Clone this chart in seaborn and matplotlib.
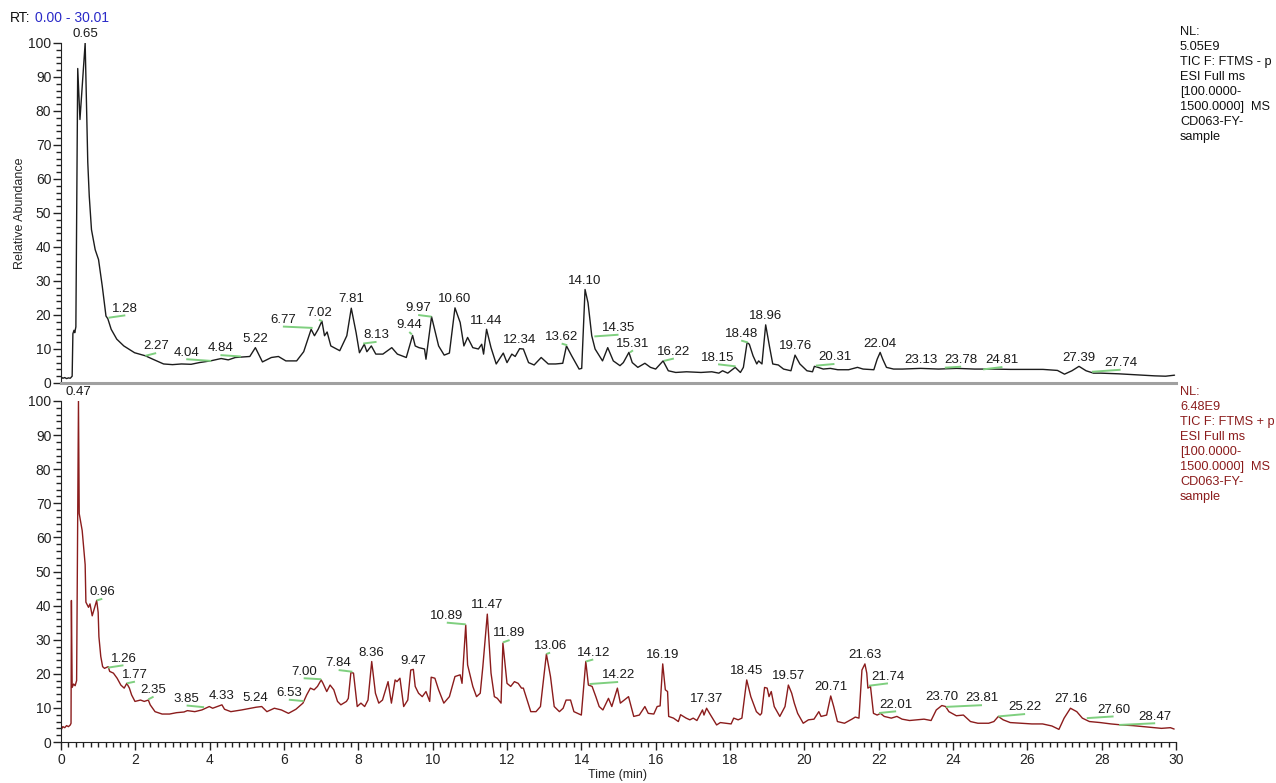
import numpy as np
import pandas as pd
import matplotlib
matplotlib.use("Agg")
import matplotlib.pyplot as plt
from matplotlib.ticker import MultipleLocator
import seaborn as sns

# ---- negative mode TIC (top) : retention time (min) / relative abundance (%)
NEG_T = [0.00, 0.05, 0.10, 0.15, 0.20, 0.25, 0.30, 0.32, 0.35, 0.37, 0.40, 0.45, 0.51, 0.65, 0.72, 0.76,
         0.82, 0.92, 1.01, 1.11, 1.21, 1.26, 1.35, 1.50, 1.69, 1.98, 2.27, 2.47, 2.76, 3.00, 3.24, 3.50,
         3.72, 4.02, 4.31, 4.50, 4.69, 5.08, 5.23, 5.42, 5.66, 5.85, 6.05, 6.34, 6.53, 6.73, 6.82, 6.92,
         7.02, 7.09, 7.16, 7.26, 7.50, 7.69, 7.81, 7.94, 8.03, 8.16, 8.23, 8.35, 8.47, 8.66, 8.90, 9.05,
         9.29, 9.46, 9.53, 9.63, 9.78, 9.82, 9.97, 10.16, 10.31, 10.45, 10.60, 10.74, 10.84, 10.94, 11.08,
         11.23, 11.32, 11.37, 11.45, 11.57, 11.71, 11.90, 12.00, 12.13, 12.22, 12.34, 12.44, 12.58, 12.73,
         12.92, 13.11, 13.31, 13.50, 13.60, 13.74, 13.94, 14.01, 14.10, 14.18, 14.28, 14.37, 14.57, 14.71,
         14.86, 15.04, 15.13, 15.28, 15.37, 15.52, 15.71, 15.86, 16.00, 16.20, 16.34, 16.54, 16.83, 17.22,
         17.51, 17.70, 17.80, 17.94, 18.14, 18.28, 18.36, 18.46, 18.52, 18.62, 18.72, 18.77, 18.86, 18.96,
         19.06, 19.15, 19.30, 19.44, 19.64, 19.75, 19.88, 20.07, 20.22, 20.27, 20.37, 20.51, 20.70, 20.90,
         21.19, 21.43, 21.58, 21.87, 21.96, 22.04, 22.11, 22.21, 22.40, 22.64, 23.13, 23.61, 24.10, 24.58,
         25.06, 25.55, 26.03, 26.42, 26.81, 27.00, 27.20, 27.39, 27.58, 27.78, 27.97, 28.46, 28.94, 29.43,
         29.72, 29.96]
NEG_Y = [1.8, 1.4, 1.6, 1.3, 1.5, 1.4, 2.0, 14.5, 15.5, 14.8, 16.5, 92.5, 77.5, 100.0, 65.0, 55.0,
         45.1, 39.2, 36.3, 28.5, 19.7, 18.9, 15.8, 12.9, 10.9, 8.9, 8.0, 7.0, 5.6, 5.4, 5.6, 5.5,
         6.0, 6.5, 7.2, 6.8, 7.5, 7.8, 10.4, 6.2, 7.5, 7.8, 6.5, 6.5, 9.2, 15.8, 13.9, 15.8,
         18.2, 13.9, 15.0, 10.9, 9.5, 13.9, 22.0, 14.8, 8.9, 11.4, 9.2, 10.9, 8.5, 8.5, 10.4, 8.5,
         7.5, 14.0, 10.9, 10.4, 10.0, 7.0, 19.5, 10.9, 8.2, 8.8, 22.1, 17.8, 10.9, 13.4, 10.4,
         10.0, 11.4, 8.5, 15.8, 10.4, 5.6, 8.8, 6.0, 8.5, 7.8, 10.1, 10.0, 6.0, 5.3,
         7.5, 5.6, 5.6, 5.8, 10.9, 8.0, 4.1, 4.3, 27.5, 23.6, 13.9, 10.0, 6.5, 10.4,
         6.5, 5.1, 6.0, 9.0, 6.0, 4.6, 5.8, 4.6, 4.1, 6.5, 3.6, 3.1, 3.3, 3.1,
         3.3, 2.9, 3.6, 2.9, 4.6, 3.1, 4.6, 11.9, 11.4, 8.0, 5.6, 6.5, 5.6, 17.1,
         10.9, 5.6, 5.3, 4.1, 3.6, 8.2, 5.6, 3.6, 3.3, 4.9, 4.6, 4.1, 4.3, 3.9,
         3.9, 4.6, 4.1, 3.9, 7.0, 9.0, 7.0, 4.6, 4.1, 4.1, 4.3, 4.1, 4.3, 4.1,
         4.1, 4.0, 4.0, 4.0, 3.7, 2.6, 3.6, 4.9, 3.6, 2.9, 2.9, 2.7, 2.4, 2.1,
         2.0, 2.3]

# ---- positive mode TIC (bottom)
POS_T = [0.00, 0.05, 0.10, 0.15, 0.20, 0.25, 0.27, 0.28, 0.30, 0.34, 0.38, 0.42, 0.47, 0.49, 0.57, 0.65,
         0.67, 0.74, 0.78, 0.84, 0.88, 0.96, 1.00, 1.02, 1.07, 1.12, 1.17, 1.27, 1.31, 1.41, 1.51, 1.61,
         1.70, 1.77, 1.84, 1.90, 1.99, 2.14, 2.24, 2.35, 2.40, 2.53, 2.72, 2.92, 3.11, 3.31, 3.40, 3.60,
         3.79, 3.99, 4.08, 4.33, 4.40, 4.57, 4.86, 5.06, 5.25, 5.40, 5.54, 5.74, 5.93, 6.12, 6.32, 6.51,
         6.61, 6.71, 6.81, 6.90, 7.00, 7.05, 7.15, 7.24, 7.34, 7.44, 7.53, 7.68, 7.73, 7.80, 7.87, 7.97,
         8.07, 8.17, 8.26, 8.36, 8.46, 8.55, 8.65, 8.80, 8.89, 8.99, 9.04, 9.12, 9.22, 9.33, 9.41, 9.48,
         9.53, 9.62, 9.72, 9.82, 9.92, 9.96, 10.06, 10.16, 10.30, 10.45, 10.60, 10.74, 10.79, 10.89, 10.94,
         11.08, 11.18, 11.28, 11.35, 11.47, 11.57, 11.66, 11.74, 11.84, 11.89, 12.00, 12.10, 12.20, 12.30,
         12.39, 12.44, 12.54, 12.64, 12.78, 12.90, 13.06, 13.17, 13.27, 13.41, 13.51, 13.59, 13.71, 13.80,
         14.00, 14.12, 14.19, 14.29, 14.39, 14.48, 14.58, 14.73, 14.82, 14.97, 15.05, 15.27, 15.41, 15.56,
         15.71, 15.80, 15.95, 16.04, 16.12, 16.19, 16.26, 16.32, 16.35, 16.48, 16.61, 16.67, 16.82, 16.92,
         17.01, 17.11, 17.26, 17.30, 17.37, 17.45, 17.64, 17.74, 17.89, 18.03, 18.10, 18.22, 18.32, 18.45,
         18.56, 18.71, 18.81, 18.85, 18.93, 19.00, 19.05, 19.11, 19.19, 19.34, 19.48, 19.57, 19.66, 19.73,
         19.82, 19.97, 20.11, 20.26, 20.39, 20.45, 20.60, 20.71, 20.79, 20.89, 21.08, 21.28, 21.37, 21.47,
         21.55, 21.63, 21.68, 21.71, 21.78, 21.86, 21.96, 22.05, 22.15, 22.34, 22.49, 22.63, 22.83, 23.02,
         23.22, 23.41, 23.55, 23.70, 23.80, 23.89, 24.09, 24.28, 24.47, 24.67, 24.96, 25.10, 25.22, 25.35,
         25.54, 25.83, 26.12, 26.41, 26.66, 26.85, 26.99, 27.16, 27.33, 27.48, 27.67, 27.96, 28.25, 28.54,
         28.84, 29.13, 29.42, 29.61, 29.85, 29.95]
POS_Y = [3.5, 4.5, 4.2, 4.8, 4.5, 5.0, 5.5, 41.5, 16.0, 17.0, 16.5, 18.0, 100.0, 67.0, 62.0, 52.0,
         41.0, 39.5, 40.5, 37.0, 38.5, 41.5, 38.0, 30.9, 25.1, 22.1, 21.6, 22.1, 20.7, 20.2, 18.7, 16.7,
         15.8, 17.2, 15.8, 13.8, 11.9, 12.3, 11.9, 12.3, 10.9, 8.9, 8.2, 8.2, 8.6, 8.8, 9.2, 8.9,
         9.4, 10.4, 9.9, 10.9, 9.6, 8.9, 9.4, 9.8, 10.2, 10.4, 8.9, 9.9, 9.4, 8.4, 9.6, 11.4,
         13.8, 15.8, 15.3, 16.3, 18.2, 17.2, 14.8, 16.7, 15.3, 11.9, 10.9, 11.9, 12.8, 20.4, 20.2, 10.4,
         11.4, 10.4, 12.3, 23.6, 14.3, 11.4, 12.3, 17.7, 11.4, 18.2, 17.7, 18.7, 10.4, 12.3, 21.1, 21.3,
         16.3, 14.3, 13.3, 14.8, 11.9, 19.0, 18.7, 15.3, 11.4, 13.3, 19.2, 19.7, 17.2, 34.3, 22.6,
         16.3, 13.3, 14.3, 22.1, 37.5, 20.2, 13.3, 12.8, 11.4, 29.0, 17.2, 16.3, 17.7, 17.2,
         15.8, 15.8, 12.3, 8.9, 8.9, 10.4, 25.8, 19.2, 10.4, 8.9, 9.9, 12.3, 12.3, 8.9,
         7.9, 23.6, 16.7, 16.3, 13.3, 10.4, 9.4, 12.8, 10.4, 15.8, 11.4, 13.3, 7.5, 7.9,
         10.4, 8.4, 8.2, 10.4, 10.6, 22.9, 15.3, 14.8, 7.5, 7.0, 6.0, 8.0, 7.0, 6.5,
         7.0, 6.3, 9.4, 7.9, 9.9, 8.4, 5.0, 5.7, 5.5, 5.3, 7.0, 6.5, 7.0, 18.2,
         13.3, 8.9, 7.9, 8.4, 16.0, 15.8, 13.3, 14.8, 10.4, 7.5, 10.4, 16.7, 14.3, 11.4,
         8.4, 5.5, 6.5, 6.7, 8.9, 7.5, 7.9, 13.5, 10.4, 6.0, 5.5, 6.7, 7.3, 7.0,
         21.1, 22.9, 20.2, 15.8, 16.3, 8.4, 7.9, 8.4, 7.5, 7.0, 7.5, 6.7, 6.3, 6.5,
         6.7, 6.3, 9.4, 10.7, 10.4, 8.9, 7.7, 7.9, 6.0, 5.5, 5.5, 6.0, 7.5, 6.5,
         5.7, 5.5, 5.3, 5.3, 4.7, 3.7, 7.0, 9.9, 8.9, 7.0, 6.0, 5.7, 5.3, 5.0,
         4.8, 4.5, 4.2, 4.0, 4.2, 3.8]

# ---- labelled peaks (label text = retention time, height = abundance at label anchor)
NEG_PEAKS = ["0.65", "1.28", "2.27", "4.04", "4.84", "5.22", "6.77", "7.02", "7.81", "8.13", "9.44",
             "9.97", "10.60", "11.44", "12.34", "13.62", "14.10", "14.35", "15.31", "16.22", "18.15",
             "18.48", "18.96", "19.76", "20.31", "22.04", "23.13", "23.78", "24.81", "27.39", "27.74"]
NEG_PEAK_H = [100, 19.2, 8.0, 6.5, 7.8, 10.4, 16.2, 18.2, 22.0, 11.6, 14.3,
              19.5, 22.1, 15.8, 10.1, 11.1, 27.5, 13.7, 9.0, 6.5, 4.9,
              11.9, 17.1, 8.2, 5.1, 9.0, 4.3, 4.5, 4.0, 4.9, 3.3]
POS_PEAKS = ["0.47", "0.96", "1.26", "1.77", "2.35", "3.85", "4.33", "5.24", "6.53", "7.00", "7.84",
             "8.36", "9.47", "10.89", "11.47", "11.89", "13.06", "14.12", "14.22", "16.19", "17.37",
             "18.45", "19.57", "20.71", "21.63", "21.74", "22.01", "23.70", "23.81", "25.22", "27.16",
             "27.60", "28.47"]
POS_PEAK_H = [100, 41.5, 21.8, 17.2, 12.5, 10.2, 10.9, 10.2, 12.0, 18.4, 20.6,
              23.6, 21.3, 34.5, 37.5, 29.2, 25.8, 23.6, 17.0, 22.9, 9.9,
              18.2, 16.7, 13.5, 22.9, 16.5, 8.5, 10.7, 10.3, 7.5, 9.9,
              7.0, 5.0]

# label displacement (min, %) for labels drawn off the apex with a green leader
NEG_SHIFT = {"1.28": (0.45, 0.7), "2.27": (0.29, 0.8), "4.04": (-0.67, 0.5), "4.84": (-0.55, 0.4),
             "6.77": (-0.80, 0.4), "7.02": (-0.08, 0.4), "8.13": (0.36, 0.5), "9.44": (-0.07, 0.7),
             "9.97": (-0.36, 0.5), "13.62": (-0.15, 0.5), "14.35": (0.65, 0.5), "15.31": (0.08, 0.6),
             "16.22": (0.27, 0.7), "18.15": (-0.47, 0.6), "18.48": (-0.18, 0.6), "20.31": (0.50, 0.5),
             "23.78": (0.44, 0.3), "24.81": (0.52, 0.7), "27.74": (0.77, 0.6)}
POS_SHIFT = {"0.96": (0.15, 0.5), "1.26": (0.42, 0.7), "1.77": (0.22, 0.5), "2.35": (0.14, 0.8),
             "3.85": (-0.47, 0.5), "6.53": (-0.40, 0.4), "7.00": (-0.47, 0.3), "7.84": (-0.37, 0.5),
             "10.89": (-0.51, 0.5), "11.89": (0.18, 0.7), "13.06": (0.10, 0.4), "14.12": (0.20, 0.6),
             "14.22": (0.77, 0.6), "21.74": (0.51, 0.7), "22.01": (0.46, 0.5), "23.81": (0.97, 0.5),
             "25.22": (0.72, 0.7), "27.60": (0.72, 0.5), "28.47": (0.97, 0.5)}

NEG_INFO = "NL:\n5.05E9\nTIC F: FTMS - p\nESI Full ms\n[100.0000-\n1500.0000]  MS\nCD063-FY-\nsample"
POS_INFO = "NL:\n6.48E9\nTIC F: FTMS + p\nESI Full ms\n[100.0000-\n1500.0000]  MS\nCD063-FY-\nsample"

sns.set_style("ticks")
plt.rcParams["font.family"] = ["Liberation Sans", "DejaVu Sans"]

W, H = 1276, 783
fig = plt.figure(figsize=(W / 100, H / 100), dpi=100)
ax_top = fig.add_axes([61 / W, 1 - 383 / H, 1115 / W, 340 / H])
ax_bot = fig.add_axes([61 / W, 1 - 742 / H, 1115 / W, 341 / H])

BLACK = "#1c1c1c"
RED = "#8b1c1c"
GREEN = "#7fcf7f"

neg = pd.DataFrame({"rt": NEG_T, "abund": NEG_Y})
pos = pd.DataFrame({"rt": POS_T, "abund": POS_Y})
sns.lineplot(data=neg, x="rt", y="abund", sort=False, estimator=None, color=BLACK, lw=1.0, ax=ax_top)
sns.lineplot(data=pos, x="rt", y="abund", sort=False, estimator=None, color=RED, lw=1.0, ax=ax_bot)


def label_peaks(ax, names, heights, shifts):
    for name, h in zip(names, heights):
        rt = float(name)
        if name in shifts:
            dx, dy = shifts[name]
            ax.plot([rt, rt + dx], [h, h + dy], color=GREEN, lw=1.4, solid_capstyle="butt",
                    clip_on=False, zorder=3)
            ax.annotate(name, (rt + dx, h + dy), xytext=(0, 0.5), textcoords="offset points",
                        ha="center", va="bottom", fontsize=9.5, color="#1a1a1a", annotation_clip=False)
        else:
            ax.annotate(name, (rt, h), xytext=(0, 2), textcoords="offset points",
                        ha="center", va="bottom", fontsize=9.5, color="#1a1a1a", annotation_clip=False)


label_peaks(ax_top, NEG_PEAKS, NEG_PEAK_H, NEG_SHIFT)
label_peaks(ax_bot, POS_PEAKS, POS_PEAK_H, POS_SHIFT)

for ax in (ax_top, ax_bot):
    ax.set_xlim(0, 30)
    ax.set_ylim(0, 100)
    ax.set_xlabel("")
    ax.set_ylabel("")
    ax.yaxis.set_major_locator(MultipleLocator(10))
    ax.yaxis.set_minor_locator(MultipleLocator(2))
    ax.tick_params(axis="y", which="major", length=6, width=1, labelsize=10, pad=1, colors="#222222")
    ax.tick_params(axis="y", which="minor", length=3.5, width=1, colors="#222222")
    for s in ("top", "right"):
        ax.spines[s].set_visible(False)
    ax.spines["left"].set_color("#222222")
    ax.patch.set_alpha(0)

ax_top.spines["bottom"].set_color("#a0a0a0")
ax_top.spines["bottom"].set_linewidth(2.2)
ax_top.tick_params(axis="x", which="both", bottom=False, labelbottom=False)

ax_bot.xaxis.set_major_locator(MultipleLocator(2))
ax_bot.xaxis.set_minor_locator(MultipleLocator(0.2))
ax_bot.tick_params(axis="x", which="major", length=6, width=1, labelsize=10, pad=2, colors="#222222")
ax_bot.tick_params(axis="x", which="minor", length=3.5, width=1, colors="#222222")
ax_bot.spines["bottom"].set_color("#222222")

# header / axis titles / acquisition info
fig.text(10 / W, 1 - 18 / H, "RT:", fontsize=10, va="center", ha="left", color="#111111")
fig.text(35 / W, 1 - 18 / H, "0.00 - 30.01", fontsize=10, va="center", ha="left", color="#2a2ac8")
fig.text(20 / W, 1 - 213 / H, "Relative Abundance", rotation=90, fontsize=9, va="center", ha="center")
fig.text(618 / W, 1 - 775 / H, "Time (min)", fontsize=9, va="center", ha="center")
fig.text(1180 / W, 1 - 26 / H, NEG_INFO, fontsize=9.2, va="top", ha="left", linespacing=1.33,
         color="#111111")
fig.text(1180 / W, 1 - 386 / H, POS_INFO, fontsize=9.2, va="top", ha="left", linespacing=1.33,
         color=RED)

fig.savefig("out.png", dpi=100, facecolor="white")
